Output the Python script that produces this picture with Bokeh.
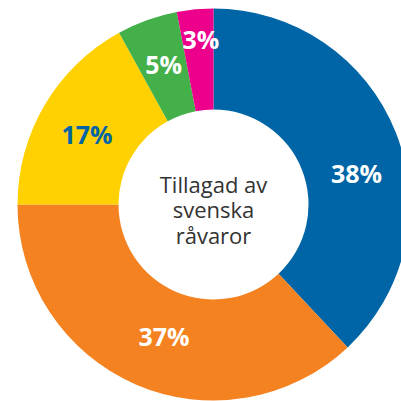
import math
from bokeh.plotting import figure
from bokeh.models import Range1d, ColumnDataSource
from bokeh.core.properties import value
from bokeh.embed import file_html
from bokeh.resources import INLINE

# Data
categories = ["A", "B", "C", "D", "E"]
shares = [38, 37, 17, 5, 3]
labels = ["38%", "37%", "17%", "5%", "3%"]
colors = ["#0065A6", "#F58220", "#FFD100", "#43B04A", "#EC008C"]
label_colors = ["#FFFFFF", "#FFFFFF", "#0065A6", "#FFFFFF", "#FFFFFF"]
center_text = "Tillagad av\nsvenska\nråvaror"

W = H = 401
cx, cy = 213, H - 204
r_out, r_in = 196, 95

p = figure(width=W, height=H, output_backend="svg", toolbar_location=None,
           x_range=Range1d(0, W), y_range=Range1d(0, H), min_border=0)
p.axis.visible = False
p.grid.visible = False
p.outline_line_color = None
p.background_fill_color = "white"

total = sum(shares)
starts, ends, mids = [], [], []
acc = 0.0
for s in shares:
    a0 = acc / total * 2 * math.pi
    acc += s
    a1 = acc / total * 2 * math.pi
    starts.append(math.pi / 2 - a0)
    ends.append(math.pi / 2 - a1)
    mids.append((a0 + a1) / 2)

src = ColumnDataSource(dict(start=starts, end=ends, color=colors))
p.annular_wedge(x=cx, y=cy, inner_radius=r_in, outer_radius=r_out,
                start_angle="start", end_angle="end", direction="clock",
                fill_color="color", line_color=None, source=src)

# label placement
lab_r = [146, 142, 144, 147, 164]
lab_shift = [math.radians(10), math.radians(-3), math.radians(-2), 0, math.radians(1)]
lx = [cx + r * math.sin(m + d) for r, m, d in zip(lab_r, mids, lab_shift)]
ly = [cy + r * math.cos(m + d) for r, m, d in zip(lab_r, mids, lab_shift)]
lsrc = ColumnDataSource(dict(x=lx, y=ly, t=labels, c=label_colors))
p.text(x="x", y="y", text="t", text_color="c", source=lsrc,
       text_font=value("Open Sans"), text_font_style="bold",
       text_font_size="25px", text_align="center", text_baseline="middle",
       y_offset=-2)

p.text(x=[cx], y=[cy], text=[center_text], text_color="#333333",
       text_font=value("Open Sans"), text_font_size="22px",
       text_align="center", text_baseline="middle", text_line_height=0.84,
       y_offset=5)

open("out.html", "w").write(file_html(p, INLINE))
